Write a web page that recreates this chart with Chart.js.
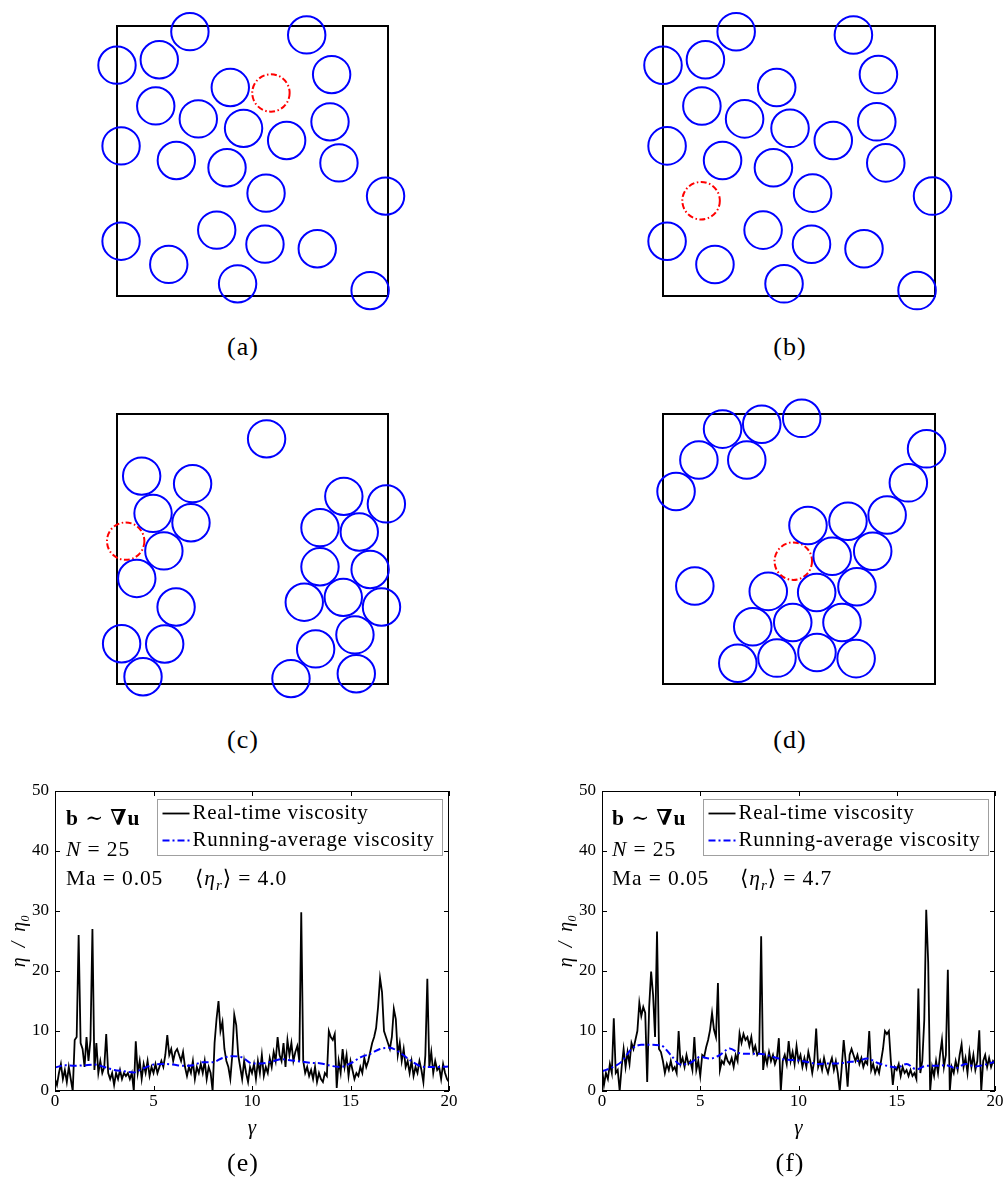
<!DOCTYPE html>
<html>
<head>
<meta charset="utf-8">
<script src="https://cdn.jsdelivr.net/npm/chart.js@4.4.1/dist/chart.umd.min.js"></script>
<style>
  html, body { margin: 0; padding: 0; background: #fff; }
  #page { position: relative; width: 1007px; height: 1188px; overflow: hidden; font-family: "Liberation Serif", "DejaVu Serif", serif; color: #000; }
  canvas { position: absolute; }
  .cap { position: absolute; width: 80px; font-size: 26px; line-height: 1; text-align: center; letter-spacing: 1px; }
  .note { position: absolute; font-size: 21.5px; line-height: 1; letter-spacing: 0.9px; white-space: nowrap; }
</style>
</head>
<body>
<div id="page">
  <canvas id="chartA" width="371" height="330" style="left:67px;top:0px"></canvas>
  <canvas id="chartB" width="372" height="330" style="left:613px;top:0px"></canvas>
  <canvas id="chartC" width="371" height="332" style="left:67px;top:388px"></canvas>
  <canvas id="chartD" width="372" height="332" style="left:613px;top:388px"></canvas>
  <canvas id="chartE" width="470" height="380" style="left:0px;top:770px"></canvas>
  <canvas id="chartF" width="460" height="380" style="left:547px;top:770px"></canvas>

  <div class="cap" style="left:203px;top:334px">(a)</div>
  <div class="cap" style="left:750px;top:334px">(b)</div>
  <div class="cap" style="left:203px;top:727px">(c)</div>
  <div class="cap" style="left:750px;top:727px">(d)</div>
  <div class="cap" style="left:203px;top:1150px">(e)</div>
  <div class="cap" style="left:750px;top:1150px">(f)</div>

  <div class="note" style="left:66px;top:808px"><b>b</b> ∼ <b>∇u</b></div>
  <div class="note" style="left:66px;top:839px"><i>N</i> = 25</div>
  <div class="note" style="left:66px;top:868px">Ma = 0.05</div>
  <div class="note" style="left:195px;top:868px">⟨<i>η<sub style="font-size:15px">r</sub></i>⟩ = 4.0</div>

  <div class="note" style="left:612px;top:808px"><b>b</b> ∼ <b>∇u</b></div>
  <div class="note" style="left:612px;top:839px"><i>N</i> = 25</div>
  <div class="note" style="left:612px;top:868px">Ma = 0.05</div>
  <div class="note" style="left:740px;top:868px">⟨<i>η<sub style="font-size:15px">r</sub></i>⟩ = 4.7</div>
</div>

<script>
// particle radius in box units (box is 0..1)
const particleRadius = 0.069;

// (a) and (b) share the same blue particles
const blueX_ab = [0.269, 0.700, 0.000, 0.156, 0.792, 0.418, 0.143, 0.300, 0.467, 0.786, 0.015, 0.626,
                  0.219, 0.406, 0.819, 0.550, 0.991, 0.368, 0.015, 0.546, 0.739, 0.191, 0.445, 0.934];
const blueY_ab = [0.979, 0.967, 0.855, 0.875, 0.820, 0.772, 0.704, 0.656, 0.621, 0.645, 0.556, 0.576,
                  0.502, 0.475, 0.493, 0.381, 0.370, 0.244, 0.203, 0.192, 0.175, 0.117, 0.045, 0.020];
const redA = [0.568, 0.752];
const redB = [0.140, 0.353];

const blueX_c = [0.552, 0.091, 0.279, 0.133, 0.273, 0.173, 0.073, 0.218, 0.017, 0.176, 0.096, 0.837,
                 0.994, 0.749, 0.894, 0.749, 0.934, 0.691, 0.835, 0.976, 0.878, 0.733, 0.642, 0.883];
const blueY_c = [0.908, 0.770, 0.742, 0.632, 0.597, 0.493, 0.391, 0.285, 0.149, 0.148, 0.027, 0.695,
                 0.667, 0.579, 0.563, 0.434, 0.424, 0.303, 0.321, 0.285, 0.182, 0.130, 0.020, 0.038];
const redC = [0.032, 0.529];

const blueX_d = [0.219, 0.363, 0.510, 0.132, 0.308, 0.048, 0.969, 0.902, 0.824, 0.680, 0.533, 0.771,
                 0.622, 0.117, 0.387, 0.565, 0.713, 0.330, 0.477, 0.658, 0.275, 0.419, 0.566, 0.710];
const blueY_d = [0.944, 0.962, 0.984, 0.830, 0.830, 0.713, 0.871, 0.745, 0.626, 0.603, 0.587, 0.492,
                 0.473, 0.363, 0.343, 0.339, 0.360, 0.212, 0.228, 0.228, 0.077, 0.096, 0.117, 0.094];
const redD = [0.479, 0.455];

// viscosity time series, sampled every 0.1 strain units from 0 to 20
const gammaStep = 0.1;
const etaE = [
  2, 1, 3, 4.5, 2, 3.5, 1.5, 4, 2, 0,
  8.5, 9, 26, 8, 7, 4, 9, 5, 8.5, 27,
  3.5, 8, 3, 5, 3, 4, 9.5, 3, 2, 3,
  1, 3, 2, 3.5, 2, 3, 2.5, 3, 2, 3,
  0, 8.3, 3, 5, 2, 4.5, 3, 5, 2.5, 4,
  3, 4.5, 3, 4, 5, 4, 6, 9.3, 6, 7,
  5, 6.5, 7, 6, 5, 6.5, 4, 2.5, 4, 3,
  5, 2, 4, 3, 4.5, 3, 5, 2, 4, 3,
  0, 8, 12, 15, 10, 11.5, 7, 5, 4, 2,
  6, 12.7, 11, 6, 4, 2, 5, 3, 1.5, 4,
  3, 4.5, 2, 5, 3, 6, 2.5, 4, 3, 5.5,
  4, 6.5, 5, 9, 6, 5, 8, 4, 8.5, 6,
  8, 5, 6.5, 7.5, 5, 29.8, 5, 3, 4, 2.5,
  3.5, 2, 4, 1.5, 3, 2, 1.5, 3, 2.5, 10,
  9, 8.5, 9.5, 0.5, 5, 3, 7, 4, 6, 2.5,
  5, 3.5, 2, 3, 2.5, 4, 3, 5.5, 4, 5,
  6.5, 8, 9, 10.5, 14, 18.8, 16.5, 10, 9, 8,
  7, 9, 13.7, 12, 6, 8, 5, 7, 4, 5,
  3, 5, 2.5, 4, 3, 5, 3.5, 1.5, 6, 18.7,
  4, 6.5, 3, 5, 3.5, 4, 2, 4.5, 3, 2,
  1.5
];
const etaF = [
  3.9, 1, 3, 2, 4.5, 3, 12.1, 3, 3.5, 0,
  4, 7, 4, 6.5, 4.5, 8, 7, 8.5, 10, 14.7,
  12.5, 14, 13, 1.5, 14, 19.9, 16, 9, 26.6, 7,
  6.5, 5, 3, 4.5, 3.5, 5, 3.5, 4, 3, 10,
  4.5, 5.5, 4, 6, 4.5, 5, 3.5, 9, 3.5, 5,
  2.5, 6, 5.7, 7.3, 8.5, 10.2, 13, 10.2, 9, 18,
  3.5, 5, 4.5, 6, 5, 4.5, 5.5, 4, 6, 5,
  9.6, 8, 9.5, 8.5, 9, 7.5, 9, 6.5, 7.5, 6,
  6.5, 25.8, 3.5, 6, 4.5, 6.5, 5, 6, 4.5, 5.5,
  8.8, 0, 5, 6, 4.5, 8.3, 5, 6.5, 4.5, 7.5,
  5, 6, 4, 5.5, 4, 6.5, 5, 3, 5, 10.4,
  4, 5, 3.5, 5.5, 4, 3, 4.5, 5.5, 3.5, 5,
  3, 0, 4, 8.5, 5, 0.7, 6, 7, 6, 5,
  6, 4.5, 5.5, 4, 5, 4.5, 10, 3.5, 4.5, 3,
  4, 3, 5, 7, 10, 9.5, 10, 5, 1, 4,
  3.5, 4.5, 2.5, 4, 3, 3.5, 2.5, 3.5, 2.5, 3,
  2, 17.1, 3, 5, 11.8, 30.2, 21.5, 0, 4, 2.5,
  5, 3, 6, 8.5, 4, 6, 20.2, 0, 4, 3,
  5, 3.5, 6, 7.8, 4, 5.5, 3, 6.5, 4, 6,
  3.5, 5, 10.1, 0, 5, 6, 4, 5.5, 4, 5,
  4.5
];

// running averages
const avgGamma = [0, 0.5, 1, 1.5, 2, 2.5, 3, 3.5, 4, 4.5, 5, 5.5, 6, 6.5, 7, 7.5, 8, 8.5, 9, 9.5, 10,
                  10.5, 11, 11.5, 12, 12.5, 13, 13.5, 14, 14.5, 15, 15.5, 16, 16.5, 17, 17.5, 18, 18.5, 19, 19.5, 20];
const avgE = [3.9, 4.3, 4.2, 4.3, 4.4, 4.0, 3.5, 3.3, 3.1, 3.8, 4.4, 4.5, 4.4, 4.2, 4.3, 4.8, 4.8, 5.5, 5.8, 5.6, 4.6,
              4.6, 4.9, 5.3, 5.1, 4.9, 4.7, 4.6, 4.2, 4.0, 4.6, 5.6, 6.2, 7.0, 7.2, 6.4, 5.2, 4.2, 4.0, 4.0, 4.1];
const avgF = [3.3, 3.9, 4.9, 7.0, 7.7, 7.7, 7.6, 6.0, 4.4, 4.7, 5.7, 5.4, 6.0, 7.1, 6.3, 6.2, 6.2, 5.9, 5.4, 5.2, 5.1,
              4.8, 4.5, 4.6, 4.6, 4.8, 5.0, 5.4, 4.7, 4.2, 3.9, 4.5, 3.6, 4.2, 4.2, 4.3, 3.8, 4.5, 4.1, 4.4, 4.9];

const serif = '"Liberation Serif", "DejaVu Serif", serif';
Chart.defaults.font.family = serif;
Chart.defaults.color = '#000';

// black square around the particle box
const boxFrame = {
    id: 'boxFrame',
    beforeDatasetsDraw(chart) {
        const { ctx, chartArea: a } = chart;
        ctx.save();
        ctx.strokeStyle = '#000';
        ctx.lineWidth = 2;
        ctx.strokeRect(a.left, a.top, a.width, a.height);
        ctx.restore();
    }
};

// dash-dot outline for the tagged particle
const dashedRing = {
    id: 'dashedRing',
    beforeDatasetDraw(chart, args) {
        const ds = chart.data.datasets[args.index];
        chart.ctx.save();
        if (ds.ringDash) chart.ctx.setLineDash(ds.ringDash);
    },
    afterDatasetDraw(chart) {
        chart.ctx.restore();
    }
};

function toPoints(xs, ys) {
    return xs.map((x, i) => ({ x: x, y: ys[i] }));
}

function ringRadius(c) {
    const s = c.chart.scales.x;
    return Math.abs(s.getPixelForValue(particleRadius) - s.getPixelForValue(0));
}

function makeBox(id, blueX, blueY, red) {
    new Chart(document.getElementById(id), {
        type: 'scatter',
        data: {
            datasets: [
                {
                    data: toPoints(blueX, blueY),
                    pointStyle: 'circle',
                    pointRadius: ringRadius,
                    pointBackgroundColor: 'rgba(0,0,0,0)',
                    pointBorderColor: '#0000ff',
                    pointBorderWidth: 2,
                    clip: false
                },
                {
                    data: [{ x: red[0], y: red[1] }],
                    pointStyle: 'circle',
                    pointRadius: ringRadius,
                    pointBackgroundColor: 'rgba(0,0,0,0)',
                    pointBorderColor: '#ff0000',
                    pointBorderWidth: 2,
                    ringDash: [6, 2.5, 1.5, 2.5],
                    clip: false
                }
            ]
        },
        options: {
            responsive: false,
            animation: false,
            devicePixelRatio: 1,
            events: [],
            layout: { padding: { left: 50, right: 50, top: 26, bottom: id === 'chartA' || id === 'chartB' ? 34 : 36 } },
            scales: {
                x: { type: 'linear', min: 0, max: 1, display: false },
                y: { type: 'linear', min: 0, max: 1, display: false }
            },
            plugins: { legend: { display: false }, tooltip: { enabled: false } }
        },
        plugins: [boxFrame, dashedRing]
    });
}

makeBox('chartA', blueX_ab, blueY_ab, redA);
makeBox('chartB', blueX_ab, blueY_ab, redB);
makeBox('chartC', blueX_c, blueY_c, redC);
makeBox('chartD', blueX_d, blueY_d, redD);

// inward tick marks on all four sides plus the axes box
const boxTicks = {
    id: 'boxTicks',
    afterDatasetsDraw(chart) {
        const { ctx, chartArea: a, scales: { x, y } } = chart;
        const len = 5;
        ctx.save();
        ctx.strokeStyle = '#000';
        ctx.lineWidth = 1;
        ctx.beginPath();
        x.ticks.forEach(t => {
            const px = Math.round(x.getPixelForValue(t.value)) + 0.5;
            ctx.moveTo(px, a.bottom); ctx.lineTo(px, a.bottom - len);
            ctx.moveTo(px, a.top); ctx.lineTo(px, a.top + len);
        });
        y.ticks.forEach(t => {
            const py = Math.round(y.getPixelForValue(t.value)) + 0.5;
            ctx.moveTo(a.left, py); ctx.lineTo(a.left + len, py);
            ctx.moveTo(a.right, py); ctx.lineTo(a.right - len, py);
        });
        ctx.stroke();
        ctx.strokeRect(Math.round(a.left) + 0.5, Math.round(a.top) + 0.5, Math.round(a.width) - 1, Math.round(a.height) - 1);
        ctx.restore();
    }
};

// boxed legend in the upper right of the axes
const boxLegend = {
    id: 'boxLegend',
    afterDraw(chart) {
        const { ctx, chartArea: a } = chart;
        const w = 285, h = 56;
        const x0 = Math.round(a.right - 7 - w) + 0.5;
        const y0 = Math.round(a.top + 8) + 0.5;
        ctx.save();
        ctx.fillStyle = '#fff';
        ctx.fillRect(x0, y0, w, h);
        ctx.strokeStyle = '#a0a0a0';
        ctx.lineWidth = 1;
        ctx.strokeRect(x0, y0, w, h);
        chart.data.datasets.forEach((ds, i) => {
            const cy = y0 + 14 + i * 27;
            ctx.beginPath();
            ctx.setLineDash(ds.borderDash || []);
            ctx.strokeStyle = ds.borderColor;
            ctx.lineWidth = ds.borderWidth;
            ctx.moveTo(x0 + 5, cy);
            ctx.lineTo(x0 + 32, cy);
            ctx.stroke();
            ctx.setLineDash([]);
            ctx.fillStyle = '#000';
            ctx.font = '21px ' + serif;
            if ('letterSpacing' in ctx) ctx.letterSpacing = '0.7px';
            ctx.textBaseline = 'middle';
            ctx.textAlign = 'left';
            ctx.fillText(ds.label, x0 + 35, cy);
        });
        ctx.restore();
    }
};

function toSeries(values) {
    return values.map((v, i) => ({ x: Math.round(i * gammaStep * 10) / 10, y: v }));
}

function makeViscosity(id, eta, avg, yAxisWidth) {
    new Chart(document.getElementById(id), {
        type: 'line',
        data: {
            datasets: [
                {
                    label: 'Real-time viscosity',
                    data: toSeries(eta),
                    borderColor: '#000',
                    borderWidth: 1.8,
                    pointRadius: 0,
                    tension: 0,
                    order: 1
                },
                {
                    label: 'Running-average viscosity',
                    data: toPoints(avgGamma, avg),
                    borderColor: '#0000ff',
                    borderWidth: 2,
                    borderDash: [7, 3, 2, 3],
                    pointRadius: 0,
                    cubicInterpolationMode: 'monotone',
                    order: 0
                }
            ]
        },
        options: {
            responsive: false,
            animation: false,
            devicePixelRatio: 1,
            events: [],
            layout: { padding: { top: 21, right: id === 'chartE' ? 21 : 12, left: 0, bottom: 0 } },
            scales: {
                x: {
                    type: 'linear', min: 0, max: 20,
                    grid: { display: false, drawTicks: false },
                    border: { display: false },
                    ticks: { stepSize: 5, padding: 0, maxRotation: 0, font: { size: 17 } },
                    title: { display: true, text: 'γ', font: { size: 21, style: 'italic' }, padding: { top: 0, bottom: 9 } },
                    afterFit(scale) { scale.height = 59; }
                },
                y: {
                    type: 'linear', min: 0, max: 50,
                    grid: { display: false, drawTicks: false },
                    border: { display: false },
                    ticks: { stepSize: 10, padding: 6, font: { size: 17 } },
                    title: { display: true, text: 'η  /  η₀', font: { size: 20, style: 'italic' }, padding: { top: 8, bottom: 0 } },
                    afterFit(scale) { scale.width = yAxisWidth; }
                }
            },
            plugins: { legend: { display: false }, tooltip: { enabled: false } }
        },
        plugins: [boxTicks, boxLegend]
    });
}

makeViscosity('chartE', etaE, avgE, 55);
makeViscosity('chartF', etaF, avgF, 55);
</script>
</body>
</html>
